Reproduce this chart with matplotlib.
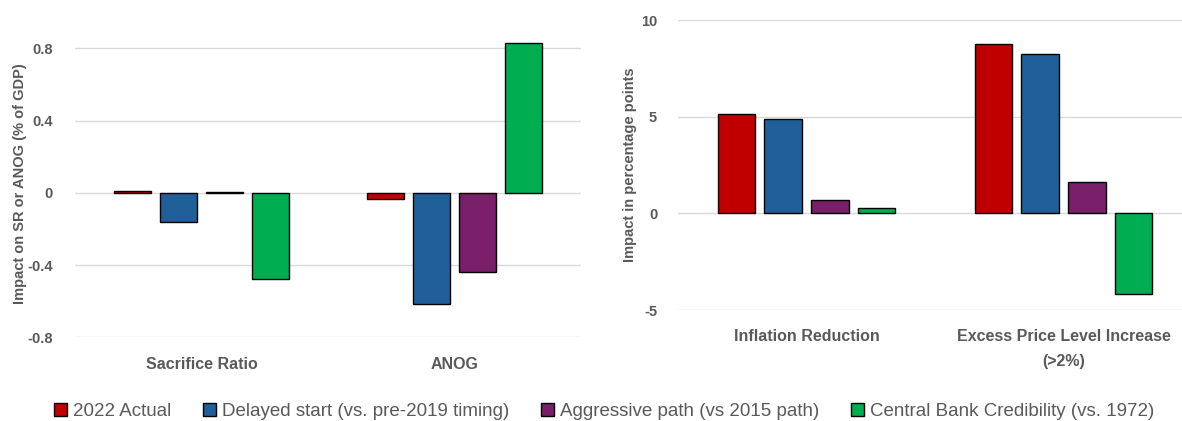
import numpy as np
import matplotlib
matplotlib.use('Agg')
import matplotlib.pyplot as plt
from matplotlib.patches import Patch

# data
series_names = ['2022 Actual', 'Delayed start (vs. pre-2019 timing)',
                'Aggressive path (vs 2015 path)', 'Central Bank Credibility (vs. 1972)']
series_colors = ['#C00000', '#215F9A', '#7A1F6A', '#00AD50']

left_categories = ['Sacrifice Ratio', 'ANOG']
left_values = [[0.01, -0.035],
               [-0.16, -0.615],
               [0.005, -0.44],
               [-0.48, 0.83]]
left_ticks = [-0.8, -0.4, 0, 0.4, 0.8]
left_ticklabels = ['-0.8', '-0.4', '0', '0.4', '0.8']

right_categories = ['Inflation Reduction', 'Excess Price Level Increase\n(>2%)']
right_values = [[5.13, 8.78],
                [4.87, 8.23],
                [0.67, 1.62],
                [0.26, -4.15]]
right_ticks = [-5, 0, 5, 10]

grey = '#595959'
plt.rcParams['font.family'] = ['Liberation Sans', 'DejaVu Sans']

fig = plt.figure(figsize=(11.82, 4.21), dpi=100)
ax1 = fig.add_axes([75 / 1182, (421 - 337.3) / 421, 506 / 1182, 307.1 / 421])
ax2 = fig.add_axes([678 / 1182, (421 - 310) / 421, 514 / 1182, 290 / 421])

step = 0.182
width = 0.146


def draw(ax, categories, values, ticks, ticklabels, ylim, ylabel, pad):
    x = np.arange(len(categories))
    for i, vals in enumerate(values):
        ax.bar(x + (i - 1.5) * step, vals, width, color=series_colors[i],
               edgecolor='black', linewidth=1.0, zorder=3)
    ax.set_xlim(-0.5, len(categories) - 0.5)
    ax.set_ylim(*ylim)
    ax.set_yticks(ticks)
    ax.set_yticklabels(ticklabels, fontsize=10.5, fontweight='bold', color=grey)
    ax.set_xticks(x)
    ax.set_xticklabels(categories, fontsize=11.5, fontweight='bold', color=grey,
                       linespacing=1.8)
    ax.tick_params(axis='both', length=0)
    ax.tick_params(axis='y', pad=pad)
    ax.tick_params(axis='x', pad=14)
    ax.grid(axis='y', color='#d9d9d9', linewidth=1.0, zorder=0)
    for s in ax.spines.values():
        s.set_visible(False)
    ax.set_ylabel(ylabel, fontsize=10.5, fontweight='bold', color=grey)


draw(ax1, left_categories, left_values, left_ticks, left_ticklabels,
     (-0.8, 0.9), 'Impact on SR or ANOG (% of GDP)', 16)
draw(ax2, right_categories, right_values, right_ticks,
     [str(t) for t in right_ticks], (-5, 10), 'Impact in percentage points', 15)
ax1.yaxis.set_label_coords(-0.095, 0.5)
ax2.yaxis.set_label_coords(-0.08, 0.5)

handles = [Patch(facecolor=c, edgecolor='black', linewidth=1.0) for c in series_colors]
leg = fig.legend(handles, series_names, loc='center', bbox_to_anchor=(0.511, 0.022),
                 ncol=4, frameon=False, prop={'size': 13.5},
                 handlelength=0.7, handleheight=0.7, handletextpad=0.3,
                 columnspacing=1.7, borderaxespad=0)
for t in leg.get_texts():
    t.set_color(grey)

fig.savefig('out.png', dpi=100)
